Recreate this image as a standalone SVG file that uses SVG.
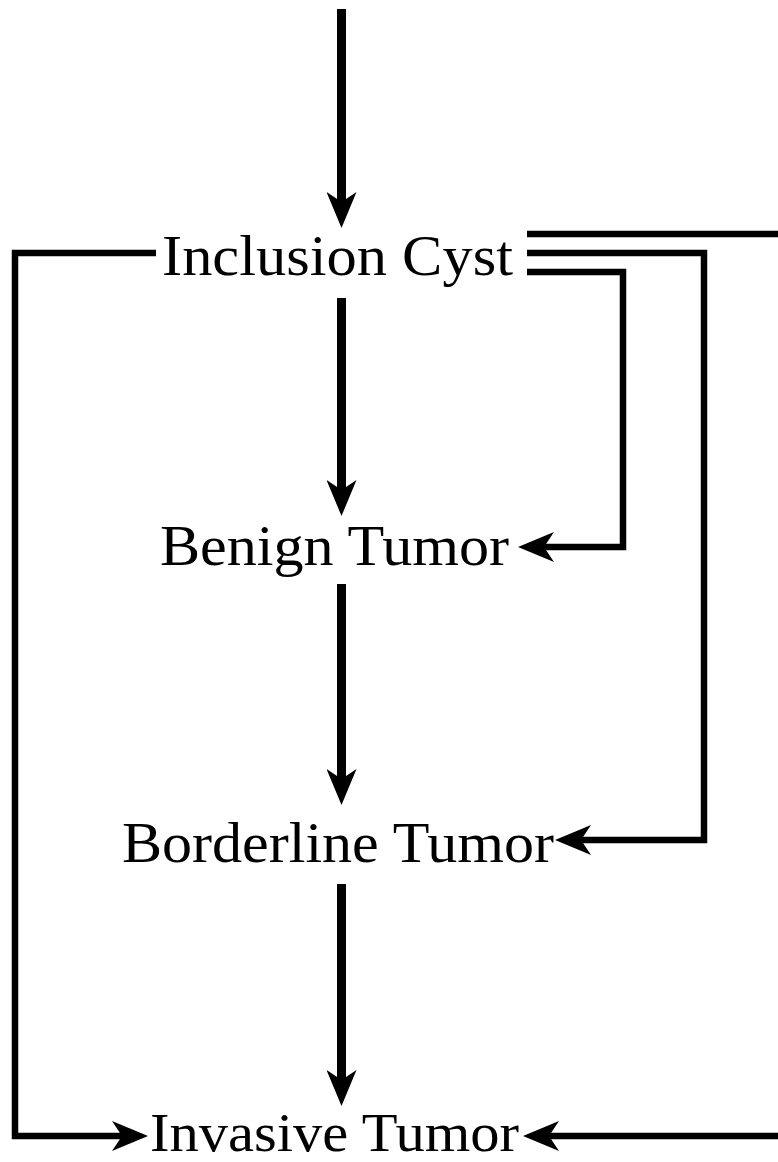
<svg xmlns="http://www.w3.org/2000/svg" width="778" height="1162" viewBox="0 0 778 1162">
<style>
  .lbl { font-family: "Liberation Serif", "Times New Roman", serif; font-size: 56px; fill: #000; }
  .ln { fill: none; stroke: #000; stroke-width: 6.5; stroke-linejoin: miter; stroke-linecap: butt; }
  .thick { stroke-width: 9; }
</style>
<defs>
  <marker id="ah" markerUnits="userSpaceOnUse" viewBox="0 0 36 30" markerWidth="36" markerHeight="30" refX="10" refY="15" orient="auto">
    <path d="M36,15 L0,0 L10,15 L0,30 Z" fill="#000"/>
  </marker>
</defs>
<rect width="778" height="1162" fill="#fff"/>
<g id="connectors">
  <line class="ln thick" x1="341.5" y1="9" x2="341.5" y2="202" marker-end="url(#ah)"/>
  <line class="ln thick" x1="341.5" y1="298" x2="341.5" y2="490" marker-end="url(#ah)"/>
  <line class="ln thick" x1="341.5" y1="584" x2="341.5" y2="779" marker-end="url(#ah)"/>
  <line class="ln thick" x1="341.5" y1="884" x2="341.5" y2="1080" marker-end="url(#ah)"/>
  <polyline class="ln" points="156,253 15,253 15,1136 122,1136" marker-end="url(#ah)"/>
  <line class="ln" x1="527" y1="234" x2="778" y2="234"/>
  <polyline class="ln" points="527,253 704,253 704,840 581,840" marker-end="url(#ah)"/>
  <polyline class="ln" points="527,272 623,272 623,547 544,547" marker-end="url(#ah)"/>
  <line class="ln" x1="778" y1="1136" x2="549" y2="1136" marker-end="url(#ah)"/>
</g>
<g id="inclusion-cyst">
  <text class="lbl" x="162" y="275" textLength="351" lengthAdjust="spacingAndGlyphs">Inclusion Cyst</text>
</g>
<g id="benign-tumor">
  <text class="lbl" x="160" y="565" textLength="349" lengthAdjust="spacingAndGlyphs">Benign Tumor</text>
</g>
<g id="borderline-tumor">
  <text class="lbl" x="122" y="862" textLength="432" lengthAdjust="spacingAndGlyphs" style="font-size:58px">Borderline Tumor</text>
</g>
<g id="invasive-tumor">
  <text class="lbl" x="150" y="1151" textLength="369" lengthAdjust="spacingAndGlyphs" style="font-size:54px">Invasive Tumor</text>
</g>
</svg>
